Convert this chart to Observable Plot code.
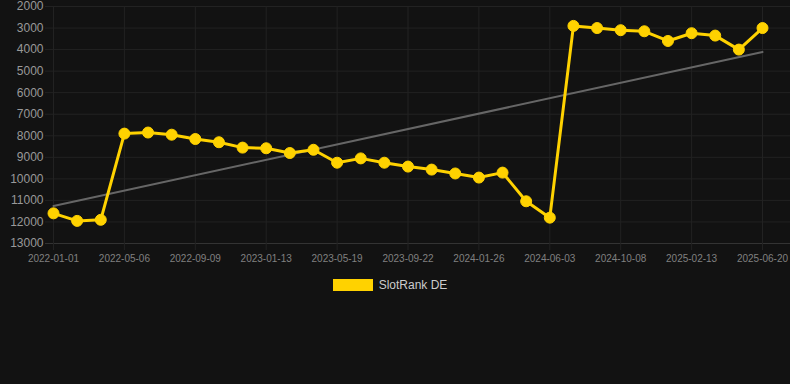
<!DOCTYPE html>
<html>
<head>
<meta charset="utf-8">
<script src="https://cdn.jsdelivr.net/npm/d3@7"></script>
<script src="https://cdn.jsdelivr.net/npm/@observablehq/plot@0.6"></script>
<style>
  html, body { margin: 0; padding: 0; background: #121212; }
  body { width: 790px; height: 384px; overflow: hidden; font-family: Arial, "Liberation Sans", sans-serif; }
  #legend { display: flex; justify-content: center; align-items: center; margin-top: 9px; height: 12px; font-size: 12px; color: #cccccc; padding-right: 10px; }
  #legend .sw { width: 40px; height: 12px; background: #ffd200; margin-right: 6px; }
</style>
</head>
<body>
<div id="chart"></div>
<div id="legend"><span class="sw"></span><span id="legend-text"></span></div>
<script>
const dates = [
  "2022-01-01","2022-02-12","2022-03-26","2022-05-06","2022-06-17","2022-07-29",
  "2022-09-09","2022-10-21","2022-12-02","2023-01-13","2023-02-24","2023-04-07",
  "2023-05-19","2023-06-30","2023-08-11","2023-09-22","2023-11-03","2023-12-15",
  "2024-01-26","2024-03-08","2024-04-22","2024-06-03","2024-07-15","2024-08-26",
  "2024-10-08","2024-11-19","2024-12-31","2025-02-13","2025-03-27","2025-05-08",
  "2025-06-20"
];
const ranks = [
  11600, 11950, 11900, 7900, 7850, 7950,
  8150, 8300, 8550, 8580, 8800, 8650,
  9250, 9050, 9250, 9430, 9570, 9750,
  9940, 9710, 11040, 11800, 2900, 3000,
  3100, 3150, 3600, 3240, 3350, 4000,
  3000
];
const xTickLabels = ["2022-01-01","2022-05-06","2022-09-09","2023-01-13","2023-05-19","2023-09-22","2024-01-26","2024-06-03","2024-10-08","2025-02-13","2025-06-20"];
const yTicks = [2000,3000,4000,5000,6000,7000,8000,9000,10000,11000,12000,13000];
const seriesName = "SlotRank DE";
document.getElementById("legend-text").textContent = seriesName;

// categorical x: position = index of the date in `dates`
const data = dates.map((d, i) => ({idx: i, date: d, rank: ranks[i]}));
const xTickIdx = xTickLabels.map(l => dates.indexOf(l));

// linear regression trend over index
const n = ranks.length;
const mx = d3.mean(d3.range(n));
const my = d3.mean(ranks);
const slope = d3.sum(d3.range(n), i => (i - mx) * (ranks[i] - my)) / d3.sum(d3.range(n), i => (i - mx) ** 2);
const icpt = my - slope * mx;
const trend = [
  {idx: 0, rank: icpt},
  {idx: n - 1, rank: icpt + slope * (n - 1)}
];

const gridColor = "#222222";
const chart = Plot.plot({
  width: 790,
  height: 270,
  marginTop: 6,
  marginBottom: 27,
  marginLeft: 45,
  marginRight: 0,
  style: {background: "#121212", fontFamily: "Arial, 'Liberation Sans', sans-serif", overflow: "visible"},
  x: {type: "linear", domain: [0, n - 1], insetLeft: 8, insetRight: 28, label: null},
  y: {domain: [2000, 13000], reverse: true, label: null},
  marks: [
    Plot.gridY({ticks: yTicks, stroke: gridColor, strokeOpacity: 1}),
    Plot.gridX({ticks: xTickIdx, stroke: gridColor, strokeOpacity: 1}),
    Plot.ruleY([13000], {stroke: "#333333"}),
    Plot.axisY({ticks: yTicks, tickSize: 0, tickPadding: 2, fontSize: 12, fill: "#999999", tickFormat: d => String(d), label: null}),
    Plot.axisX({ticks: xTickIdx, tickSize: 7, tickPadding: 4, fontSize: 10, fill: "#808080", stroke: gridColor, tickFormat: i => dates[i], label: null}),
    Plot.line(trend, {x: "idx", y: "rank", stroke: "#666666", strokeWidth: 2}),
    Plot.line(data, {x: "idx", y: "rank", stroke: "#ffd200", strokeWidth: 3}),
    Plot.dot(data, {x: "idx", y: "rank", r: 5.5, fill: "#ffd200", stroke: "#ffd200", strokeWidth: 1})
  ]
});
document.getElementById("chart").appendChild(chart);
</script>
</body>
</html>
